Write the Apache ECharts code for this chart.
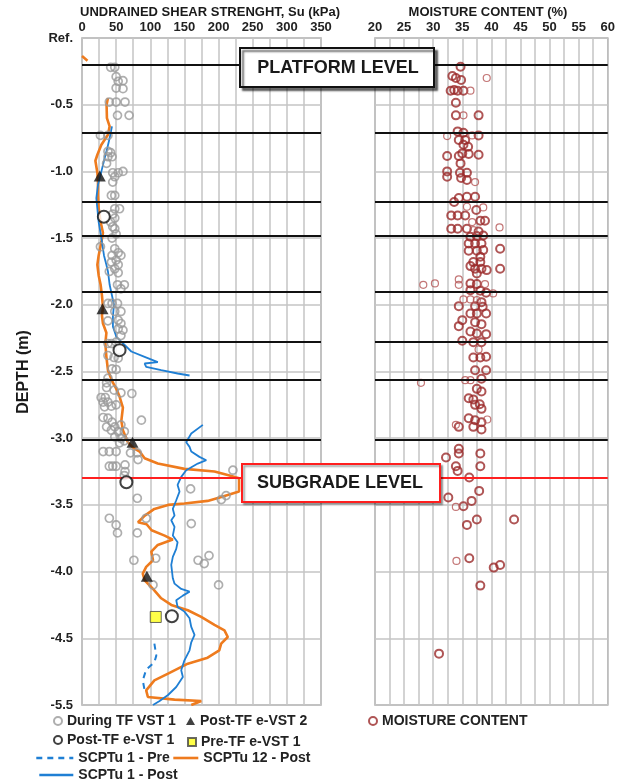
<!DOCTYPE html>
<html>
<head>
<meta charset="utf-8">
<script src="https://cdn.jsdelivr.net/npm/echarts@6/dist/echarts.min.js"></script>
<style>
  html, body { margin: 0; padding: 0; background: #fff; }
  #main { width: 618px; height: 783px; }
</style>
</head>
<body>
<div id="main"></div>
<script>
// ---- data: [Su (kPa) or moisture (%), depth (m)] ----
const scptu12PostTop = [[0, -0.135], [8, -0.17]];
const scptu12Post = [
  [38, -0.45], [36, -0.5], [36.5, -0.6], [40.5, -0.662], [38, -0.725], [28.4, -0.8], [22.5, -0.875],
  [19.6, -0.92], [22.5, -1.01], [23.4, -1.08], [23.4, -1.18], [24.4, -1.275], [27.3, -1.38],
  [30.7, -1.46], [28.4, -1.53], [24.4, -1.63], [22.5, -1.7], [24.4, -1.78], [27.3, -1.85],
  [29.2, -1.93], [30.7, -2.02], [29.2, -2.08], [30.7, -2.14], [35.7, -2.21], [34.2, -2.29],
  [35.7, -2.39], [38, -2.49], [43.9, -2.57], [50.3, -2.63], [55.1, -2.69], [59.9, -2.77],
  [57.6, -2.87], [59.9, -2.94], [67.3, -3.03], [74.6, -3.07], [84.4, -3.1], [91.7, -3.15],
  [111, -3.19], [150, -3.23], [194, -3.25], [216, -3.28], [230, -3.3], [230, -3.4], [204, -3.44],
  [184, -3.47], [150, -3.49], [126, -3.5], [106, -3.53], [92, -3.58], [82, -3.63], [94.6, -3.645],
  [101.9, -3.69], [121, -3.73], [133, -3.76], [111, -3.8], [101.5, -3.85], [104, -3.915],
  [94, -3.965], [89, -4.015], [91.7, -4.065], [104, -4.13], [116, -4.2], [130.7, -4.25],
  [155, -4.29], [174.6, -4.34], [194, -4.4], [208.6, -4.44], [213.5, -4.49], [203.8, -4.54],
  [201, -4.59], [184, -4.645], [155, -4.69], [126, -4.765], [106, -4.815], [94, -4.89],
  [96.5, -4.94], [135.5, -4.96], [174.6, -4.97], [160, -5.0]
];
const scptu1PostUpper = [
  [43.9, -0.662], [40.5, -0.75], [37.1, -0.825], [33.2, -0.9], [28.4, -1.0], [23.4, -1.1],
  [21, -1.2], [22.5, -1.28], [24.4, -1.38], [27.3, -1.465], [29.2, -1.53], [32.2, -1.63],
  [35.7, -1.7], [38, -1.75], [40.5, -1.85], [43.9, -1.93], [46.8, -2.0], [45.3, -2.085],
  [45.3, -2.165], [50.3, -2.24], [62.4, -2.3], [72.2, -2.35], [91.7, -2.39], [111, -2.43],
  [91.7, -2.44], [94, -2.465], [116, -2.49], [140, -2.515], [157.5, -2.53]
];
const scptu1PostLower = [
  [177, -2.9], [160, -2.965], [152.6, -3.03], [157.5, -3.065], [160, -3.1], [172, -3.14],
  [182, -3.165], [169.6, -3.19], [152.6, -3.24], [145.3, -3.29], [140, -3.35], [142.8, -3.4],
  [138, -3.465], [133, -3.53], [135.5, -3.58], [130.7, -3.615], [135.5, -3.665], [133, -3.73],
  [140, -3.78], [138, -3.83], [133, -3.89], [130.7, -3.95], [133, -4.05], [135.5, -4.09],
  [145.3, -4.13], [157.5, -4.15], [147.7, -4.18], [138, -4.215], [140, -4.265], [150, -4.3],
  [157.5, -4.35], [160, -4.415], [164.8, -4.475], [160, -4.53], [157.5, -4.59], [150, -4.665],
  [145.3, -4.74], [147.7, -4.79], [138, -4.865], [126, -4.925], [113.6, -4.97], [104, -5.0]
];
const scptu1Pre = [[106, -4.54], [108.8, -4.63], [106, -4.68], [94, -4.735], [89, -4.815], [91.7, -4.89]];

const vstDuring = [
  [42, -0.22], [48, -0.22], [50, -0.29], [60, -0.32], [53, -0.325], [50, -0.375], [60, -0.38],
  [40, -0.48], [50, -0.48], [63, -0.48], [52, -0.58], [69, -0.58], [27, -0.73], [38, -0.73],
  [38, -0.85], [42, -0.86], [38, -0.89], [44, -0.89], [36, -0.94], [45, -1.01], [53, -1.01],
  [60, -1.0], [48, -1.04], [45, -1.08], [43, -1.18], [48, -1.18], [48, -1.28], [55, -1.28],
  [45, -1.32], [48, -1.35], [42, -1.38], [45, -1.415], [48, -1.43], [50, -1.47], [44, -1.5],
  [27, -1.565], [48, -1.58], [53, -1.61], [44, -1.63], [57, -1.63], [50, -1.665], [43, -1.68],
  [53, -1.7], [48, -1.73], [40, -1.75], [53, -1.76], [52, -1.85], [62, -1.85], [57, -1.88],
  [38, -1.99], [44, -1.99], [52, -1.99], [48, -2.05], [57, -2.05], [38, -2.12], [53, -2.115],
  [57, -2.14], [53, -2.18], [60, -2.19], [57, -2.23], [38, -2.29], [43, -2.29], [50, -2.28],
  [38, -2.38], [47, -2.395], [53, -2.4], [44, -2.48], [50, -2.485], [38, -2.55], [36, -2.585],
  [36, -2.62], [47, -2.64], [57, -2.66], [73, -2.665], [28, -2.695], [34, -2.695], [31, -2.73],
  [38, -2.73], [33, -2.765], [43, -2.76], [50, -2.75], [31, -2.845], [38, -2.85], [87, -2.865],
  [44, -2.88], [36, -2.915], [48, -2.915], [57, -2.9], [43, -2.94], [53, -2.95], [62, -2.95],
  [48, -2.99], [57, -3.0], [62, -3.02], [55, -3.035], [31, -3.1], [40, -3.1], [50, -3.1],
  [71, -3.11], [81, -3.11], [82, -3.16], [40, -3.21], [45, -3.21], [50, -3.21], [63, -3.2],
  [63, -3.25], [62, -3.28], [221, -3.24], [159, -3.38], [81, -3.45], [204, -3.46], [211, -3.43],
  [40, -3.6], [94, -3.6], [50, -3.65], [160, -3.64], [52, -3.71], [81, -3.71], [76, -3.915],
  [108, -3.9], [170, -3.915], [179, -3.94], [186, -3.88], [104, -4.1], [200, -4.1]
];
const evst1Post = [[32, -1.34], [55, -2.34], [65, -3.33], [131.6, -4.335]];
const evst2Post = [[26, -1.035], [30, -2.03], [74, -3.03], [95, -4.035]];
const evst1Pre = [[108, -4.34]];

const moistureBold = [
  [34.7, -0.215], [33.3, -0.285], [33.9, -0.3], [34.8, -0.315], [33, -0.395], [33.6, -0.39],
  [34.2, -0.395], [35.2, -0.395], [33.9, -0.485], [33.9, -0.58], [37.8, -0.58], [34.2, -0.7],
  [35.2, -0.71], [37.8, -0.73], [34.4, -0.765], [35.5, -0.765], [35.2, -0.8], [36, -0.815],
  [32.4, -0.885], [34.4, -0.885], [35, -0.865], [36.1, -0.87], [37.8, -0.875], [34.7, -0.94],
  [32.4, -1.0], [32.4, -1.04], [34.6, -1.01], [35.8, -1.01], [34.8, -1.05], [35.8, -1.065],
  [34.4, -1.2], [35.8, -1.19], [37.2, -1.19], [33.6, -1.23], [37.4, -1.29], [33.1, -1.33],
  [34.2, -1.33], [35.5, -1.33], [38.1, -1.37], [38.9, -1.37], [33.1, -1.43], [34.2, -1.43],
  [35.8, -1.43], [37.8, -1.45], [36.4, -1.49], [37.5, -1.485], [38.6, -1.48], [36.1, -1.54],
  [37.2, -1.54], [38.3, -1.54], [41.5, -1.58], [36.1, -1.595], [37.5, -1.595], [38.6, -1.59],
  [38.1, -1.64], [36.9, -1.68], [38.1, -1.68], [36.4, -1.71], [37.2, -1.73], [38.3, -1.73],
  [39.2, -1.74], [41.5, -1.73], [37.5, -1.765], [36.4, -1.84], [37.5, -1.845], [36.4, -1.89],
  [38.1, -1.895], [39.1, -1.91], [38.3, -1.98], [34.4, -2.01], [37.2, -2.01], [38.5, -2.015],
  [36.4, -2.065], [37.5, -2.065], [39.1, -2.065], [35, -2.115], [37.2, -2.13], [38.3, -2.145],
  [34.4, -2.16], [36.4, -2.2], [37.5, -2.215], [39.1, -2.22], [35, -2.27], [36.9, -2.28],
  [38.3, -2.28], [36.9, -2.395], [38.1, -2.395], [39.1, -2.39], [37.2, -2.49], [39.1, -2.49],
  [38.3, -2.555], [37.5, -2.63], [38.3, -2.65], [36.1, -2.7], [36.9, -2.71], [37.2, -2.75],
  [38.3, -2.78], [38, -2.745], [36.1, -2.85], [37.2, -2.865], [38.3, -2.88], [34.4, -2.915],
  [36.9, -2.915], [38.3, -2.935], [34.4, -3.08], [32.2, -3.145], [34.4, -3.115], [38.1, -3.115],
  [33.9, -3.21], [34.2, -3.245], [38.1, -3.21], [36.2, -3.295], [37.9, -3.395], [32.6, -3.445],
  [36.6, -3.47], [35.2, -3.51], [37.5, -3.61], [35.8, -3.65], [43.9, -3.61], [36.2, -3.9],
  [40.4, -3.97], [41.5, -3.95], [38.1, -4.105], [31, -4.615]
];
const moistureThin = [
  [39.2, -0.3], [36.4, -0.395], [35.2, -0.58], [32.4, -0.735], [36.7, -0.73], [37.2, -1.08],
  [35.8, -1.265], [38.6, -1.27], [36.7, -1.38], [41.4, -1.42], [36.9, -1.44], [28.3, -1.85],
  [30.3, -1.84], [34.4, -1.81], [34.4, -1.85], [38.9, -1.845], [40.3, -1.915], [35.2, -1.96],
  [36.4, -1.96], [37.5, -1.965], [37.8, -2.335], [27.9, -2.585], [35.5, -2.565], [36.4, -2.565],
  [39.3, -2.86], [33.9, -2.9], [33.9, -3.515], [34, -3.92]
];

const levelDepths = [-0.2, -0.715, -1.225, -1.48, -1.9, -2.28, -2.555, -3.01];
const subgradeDepth = -3.3;

// ---- chart ----
const FONT = "'Liberation Sans Narrow','Liberation Sans',Arial,sans-serif";
const FONT_W = "'Liberation Sans',Arial,sans-serif";
const GRIDC = '#c4c4c4';

var chartDom = document.getElementById('main');
var myChart = echarts.init(chartDom, null, { renderer: 'canvas' });

function levelLines() {
  return {
    symbol: 'none',
    silent: true,
    label: { show: false },
    animation: false,
    data: levelDepths.map(d => ({ yAxis: d, lineStyle: { color: '#111', width: 2, type: 'solid' } }))
      .concat([{ yAxis: subgradeDepth, lineStyle: { color: '#ff1f1f', width: 2, type: 'solid' } }])
  };
}

// one legend box per item so each can sit where the original put it
function legendItem(name, left, top, w, h, isLine, fontFamily) {
  const lg = {
    data: [name],
    left: left,
    top: top,
    padding: 0,
    itemWidth: w,
    itemHeight: h,
    itemGap: 0,
    selectedMode: false,
    textStyle: { fontFamily: fontFamily || FONT, fontWeight: 'bold', fontSize: 14, color: '#222' }
  };
  if (isLine) {
    lg.itemStyle = { opacity: 0 }; // hide the marker ECharts puts on line icons
    lg.lineStyle = { width: 2.6 };
  }
  return lg;
}

function title(text, x, y, size, rot) {
  return {
    type: 'text', z: 100, silent: true, x: x, y: y, rotation: rot || 0,
    style: { text: text, textAlign: 'center', textVerticalAlign: 'middle',
      font: 'bold ' + size + 'px ' + FONT_W, fill: '#1a1a1a' }
  };
}

var option = {
  animation: false,
  backgroundColor: '#fff',
  grid: [
    { left: 82, top: 38, width: 239, height: 667, show: true, borderColor: '#a8a8a8', borderWidth: 1.5 },
    { left: 375, top: 38, width: 240, height: 667, show: true, borderColor: '#a8a8a8', borderWidth: 1.5 }
  ],
  xAxis: [
    {
      gridIndex: 0, type: 'value', position: 'top', min: 0, max: 350, interval: 25,
      axisLine: { show: false }, axisTick: { show: false },
      splitLine: { lineStyle: { color: GRIDC, width: 1.5 } },
      axisLabel: {
        margin: 4, fontFamily: FONT, fontWeight: 'bold', fontSize: 13, color: '#222',
        formatter: v => (v % 50 === 0 ? String(v) : '')
      }
    },
    {
      gridIndex: 1, type: 'value', position: 'top', min: 20, max: 60, interval: 2.5,
      axisLine: { show: false }, axisTick: { show: false },
      splitLine: { lineStyle: { color: GRIDC, width: 1.5 } },
      axisLabel: {
        margin: 4, fontFamily: FONT, fontWeight: 'bold', fontSize: 13, color: '#222',
        formatter: v => (v % 5 === 0 ? String(v) : '')
      }
    }
  ],
  yAxis: [
    {
      gridIndex: 0, type: 'value', min: -5, max: 0, interval: 0.5,
      axisLine: { show: false }, axisTick: { show: false },
      splitLine: { lineStyle: { color: GRIDC, width: 1.5 } },
      axisLabel: {
        margin: 9, fontFamily: FONT, fontWeight: 'bold', fontSize: 13, color: '#222',
        formatter: v => (v === 0 ? 'Ref.' : v === -5 ? '-5.5' : v.toFixed(1))
      }
    },
    {
      gridIndex: 1, type: 'value', min: -5, max: 0, interval: 0.5,
      axisLine: { show: false }, axisTick: { show: false },
      splitLine: { lineStyle: { color: GRIDC, width: 1.5 } },
      axisLabel: { show: false }
    }
  ],
  legend: [
    legendItem('During TF VST 1', 53, 714, 8, 8),
    legendItem('Post-TF e-VST 1', 53, 733, 8, 8),
    legendItem('SCPTu 1 - Pre', 35, 751, 37, 14, true),
    legendItem('SCPTu 1 - Post', 38, 768, 34, 14, true),
    legendItem('Post-TF e-VST 2', 186, 714, 9, 8),
    legendItem('Pre-TF e-VST 1', 187, 735, 8, 8),
    legendItem('SCPTu 12 - Post', 172, 751, 25, 14, true),
    legendItem('MOISTURE CONTENT', 368, 714, 8, 8, false, FONT_W)
  ],
  series: [
    { name: 'levels-left', type: 'line', xAxisIndex: 0, yAxisIndex: 0, data: [], markLine: levelLines() },
    { name: 'levels-right', type: 'line', xAxisIndex: 1, yAxisIndex: 1, data: [], markLine: levelLines() },
    {
      name: 'SCPTu 12 - Post', type: 'line', xAxisIndex: 0, yAxisIndex: 0, data: scptu12Post,
      symbol: 'none', lineStyle: { color: '#ee7b1e', width: 2.6 }, itemStyle: { color: '#ee7b1e' }, z: 3
    },
    {
      name: 'SCPTu 12 - Post', type: 'line', xAxisIndex: 0, yAxisIndex: 0, data: scptu12PostTop,
      symbol: 'none', lineStyle: { color: '#ee7b1e', width: 2.6 }, itemStyle: { color: '#ee7b1e' }, z: 3
    },
    {
      name: 'SCPTu 1 - Post', type: 'line', xAxisIndex: 0, yAxisIndex: 0, data: scptu1PostUpper,
      symbol: 'none', lineStyle: { color: '#1f7fd4', width: 1.8 }, itemStyle: { color: '#1f7fd4' }, z: 3
    },
    {
      name: 'SCPTu 1 - Post', type: 'line', xAxisIndex: 0, yAxisIndex: 0, data: scptu1PostLower,
      symbol: 'none', lineStyle: { color: '#1f7fd4', width: 1.8 }, itemStyle: { color: '#1f7fd4' }, z: 3
    },
    {
      name: 'SCPTu 1 - Pre', type: 'line', xAxisIndex: 0, yAxisIndex: 0, data: scptu1Pre,
      symbol: 'none', lineStyle: { color: '#1f7fd4', width: 2, type: [6, 5] }, itemStyle: { color: '#1f7fd4' }, z: 3
    },
    {
      name: 'During TF VST 1', type: 'scatter', xAxisIndex: 0, yAxisIndex: 0, data: vstDuring,
      symbol: 'circle', symbolSize: 8,
      itemStyle: { color: 'rgba(255,255,255,0)', borderColor: '#9a9a9a', borderWidth: 1.7 }, z: 4
    },
    {
      name: 'Post-TF e-VST 1', type: 'scatter', xAxisIndex: 0, yAxisIndex: 0, data: evst1Post,
      symbol: 'circle', symbolSize: 12,
      itemStyle: { color: '#fff', borderColor: '#111', borderWidth: 2 }, z: 5
    },
    {
      name: 'Post-TF e-VST 2', type: 'scatter', xAxisIndex: 0, yAxisIndex: 0, data: evst2Post,
      symbol: 'triangle', symbolSize: [12, 11],
      itemStyle: { color: '#111' }, z: 5
    },
    {
      name: 'Pre-TF e-VST 1', type: 'scatter', xAxisIndex: 0, yAxisIndex: 0, data: evst1Pre,
      symbol: 'rect', symbolSize: 11,
      itemStyle: { color: '#ffff1a', borderColor: '#444', borderWidth: 1 }, z: 5
    },
    {
      name: 'MOISTURE CONTENT', type: 'scatter', xAxisIndex: 1, yAxisIndex: 1, data: moistureBold,
      symbol: 'circle', symbolSize: 8,
      itemStyle: { color: 'rgba(255,255,255,0)', borderColor: '#9b2b2b', borderWidth: 2 }, z: 4
    },
    {
      name: 'MOISTURE CONTENT', type: 'scatter', xAxisIndex: 1, yAxisIndex: 1, data: moistureThin,
      symbol: 'circle', symbolSize: 7,
      itemStyle: { color: 'rgba(255,255,255,0)', borderColor: '#b45454', borderWidth: 1.2 }, z: 4
    }
  ],
  graphic: [
    title('UNDRAINED SHEAR STRENGHT, Su (kPa)', 210, 12, 13),
    title('MOISTURE CONTENT (%)', 488, 12, 13),
    title('DEPTH (m)', 24, 372, 16, Math.PI / 2),
    {
      type: 'rect', z: 100, silent: true,
      shape: { x: 240, y: 48, width: 194, height: 39 },
      style: { fill: '#fff', stroke: '#111', lineWidth: 2, shadowColor: 'rgba(0,0,0,0.55)', shadowOffsetX: 3, shadowOffsetY: 3, shadowBlur: 2 }
    },
    title('PLATFORM LEVEL', 338, 68, 18),
    {
      type: 'rect', z: 100, silent: true,
      shape: { x: 242, y: 464, width: 198, height: 38 },
      style: { fill: '#fff', stroke: '#ff1f1f', lineWidth: 2, shadowColor: 'rgba(0,0,0,0.35)', shadowOffsetX: 2, shadowOffsetY: 2, shadowBlur: 2 }
    },
    title('SUBGRADE LEVEL', 340, 483, 18)
  ]
};

option && myChart.setOption(option, true);
window.onresize = () => {
  myChart.resize();
};
</script>
</body>
</html>
